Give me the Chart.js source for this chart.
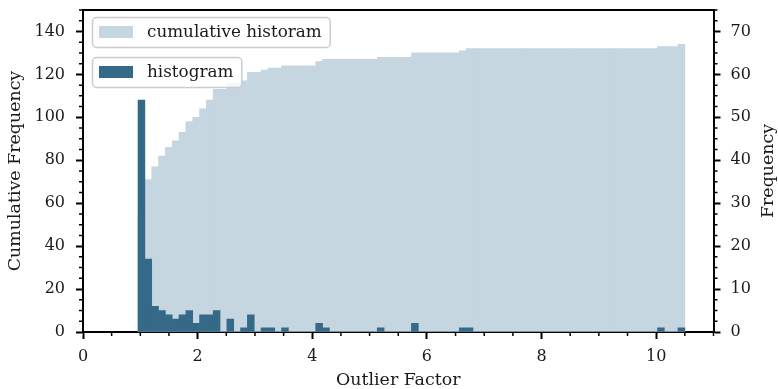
<!DOCTYPE html>
<html><head><meta charset="utf-8">
<script src="https://cdn.jsdelivr.net/npm/chart.js@4.4.1/dist/chart.umd.min.js"></script>
<style>html,body{margin:0;padding:0;background:#fff;} #wrap{width:778px;height:389px;position:relative;}</style>
</head><body><div id="wrap"><canvas id="c"></canvas></div>
<script>
// ---- data ----
const binStart = 0.96;      // left edge of first bin (Outlier Factor)
const binWidth = 0.11925;   // width of one bin
const histogram = [
  54,17,6,5,4,3,4,5,2,4,
  4,5,0,3,0,1,4,0,1,1,
  0,1,0,0,0,0,2,1,0,0,
  0,0,0,0,0,1,0,0,0,0,
  2,0,0,0,0,0,0,1,1,0,
  0,0,0,0,0,0,0,0,0,0,
  0,0,0,0,0,0,0,0,0,0,
  0,0,0,0,0,0,1,0,0,1
];
const cumulative = [
  54,71,77,82,86,89,93,98,100,104,
  108,113,113,116,116,117,121,121,122,123,
  123,124,124,124,124,124,126,127,127,127,
  127,127,127,127,127,128,128,128,128,128,
  130,130,130,130,130,130,130,131,132,132,
  132,132,132,132,132,132,132,132,132,132,
  132,132,132,132,132,132,132,132,132,132,
  132,132,132,132,132,132,133,133,133,134
];
const binCenters = histogram.map((_, i) => +(binStart + (i + 0.5) * binWidth).toFixed(4));
const xTicks = [0, 2, 4, 6, 8, 10];
const leftTicks = [0, 20, 40, 60, 80, 100, 120, 140];
const rightTicks = [0, 10, 20, 30, 40, 50, 60, 70];
const labels = { hist: 'histogram', cum: 'cumulative historam', x: 'Outlier Factor', yl: 'Cumulative Frequency', yr: 'Frequency' };

// ---- styling ----
const FONT = "'DejaVu Serif', 'Liberation Serif', serif";
const FS_TICK = 16;
const FS_TITLE = 17.4;
const FS_LEG = 16.8;
const DARK = '#346a87';
const LIGHT = '#c6d6e0';
const TXT = '#1a1a1a';
Chart.defaults.font.family = FONT;
Chart.defaults.color = TXT;

function roundRect(c, x, y, w, h, r) {
  c.beginPath();
  c.moveTo(x + r, y);
  c.arcTo(x + w, y, x + w, y + h, r);
  c.arcTo(x + w, y + h, x, y + h, r);
  c.arcTo(x, y + h, x, y, r);
  c.arcTo(x, y, x + w, y, r);
  c.closePath();
}

const decor = {
  id: 'decor',
  afterDraw(chart) {
    const c = chart.ctx, a = chart.chartArea;
    const sx = chart.scales.x, sy = chart.scales.y, sy1 = chart.scales.y1;
    c.save();
    // top spine
    c.strokeStyle = '#000'; c.lineWidth = 2;
    c.beginPath(); c.moveTo(a.left - 1, a.top); c.lineTo(a.right + 1, a.top); c.stroke();
    // minor ticks
    c.lineWidth = 1.5;
    c.beginPath();
    for (let i = 0; i <= 22; i++) {
      if (i % 4 === 0) continue;
      const px = sx.getPixelForValue(i * 0.5);
      c.moveTo(px, a.bottom); c.lineTo(px, a.bottom + 4);
    }
    for (let v = 0; v <= 150; v += 5) {
      if (v % 20 === 0) continue;
      const py = sy.getPixelForValue(v);
      c.moveTo(a.left, py); c.lineTo(a.left - 4, py);
    }
    for (let i = 0; i <= 30; i++) {
      if (i % 4 === 0) continue;
      const py = sy1.getPixelForValue(i * 2.5);
      c.moveTo(a.right, py); c.lineTo(a.right + 4, py);
    }
    c.stroke();
    // right title (reads bottom to top)
    c.font = FS_TITLE + 'px ' + FONT;
    c.fillStyle = TXT;
    c.save();
    c.translate(768, (a.top + a.bottom) / 2);
    c.rotate(-Math.PI / 2);
    c.textAlign = 'center'; c.textBaseline = 'middle';
    c.fillText(labels.yr, 0, 0);
    c.restore();
    // two legend boxes
    c.font = FS_LEG + 'px ' + FONT;
    const boxes = [{ ds: 1, y: 17 }, { ds: 0, y: 57 }];
    for (const b of boxes) {
      const ds = chart.data.datasets[b.ds];
      const tw = c.measureText(ds.label).width;
      const x = 92, w = 147 - 92 + tw + 8, h = 30;
      roundRect(c, x + 0.5, b.y + 0.5, w, h, 4);
      c.fillStyle = 'rgba(255,255,255,0.8)'; c.fill();
      c.strokeStyle = '#cccccc'; c.lineWidth = 1.5; c.stroke();
      c.fillStyle = ds.backgroundColor; c.fillRect(99, b.y + 9, 34, 12);
      c.fillStyle = TXT; c.textAlign = 'left'; c.textBaseline = 'middle';
      c.fillText(ds.label, 147, b.y + 16);
    }
    c.restore();
  }
};

const common = { grouped: false, barPercentage: 1, categoryPercentage: 1, borderWidth: 0 };
function fitV(width) {
  return s => { s.width = width; s.paddingTop = 0; s.paddingBottom = 0; };
}
new Chart(document.getElementById('c'), {
  type: 'bar',
  data: {
    datasets: [
      Object.assign({ label: labels.hist, data: binCenters.map((x, i) => ({ x, y: histogram[i] })), yAxisID: 'y1', backgroundColor: DARK, order: 1 }, common),
      Object.assign({ label: labels.cum, data: binCenters.map((x, i) => ({ x, y: cumulative[i] })), yAxisID: 'y', backgroundColor: LIGHT, order: 2 }, common)
    ]
  },
  options: {
    responsive: true, maintainAspectRatio: false, animation: false,
    layout: { padding: { top: 10, left: 0, right: 0, bottom: 0 } },
    plugins: { legend: { display: false }, tooltip: { enabled: false } },
    scales: {
      x: {
        type: 'linear', min: 0, max: 11, offset: false,
        grid: { offset: false, drawOnChartArea: false, drawTicks: true, tickLength: 7, tickWidth: 2, tickColor: '#000' },
        border: { display: true, color: '#000', width: 2 },
        ticks: { font: { size: FS_TICK }, padding: 8, maxRotation: 0, autoSkip: false },
        afterBuildTicks: s => { s.ticks = xTicks.map(v => ({ value: v })); },
        afterFit: s => { s.height = 57; s.paddingLeft = 0; s.paddingRight = 0; },
        title: { display: true, text: labels.x, font: { size: FS_TITLE, lineHeight: 1 }, padding: { top: 0, bottom: 0 } }
      },
      y: {
        position: 'left', min: 0, max: 150,
        grid: { drawOnChartArea: false, drawTicks: true, tickLength: 7, tickWidth: 2, tickColor: '#000' },
        border: { display: true, color: '#000', width: 2 },
        ticks: { font: { size: FS_TICK }, padding: 11, autoSkip: false },
        afterBuildTicks: s => { s.ticks = leftTicks.map(v => ({ value: v })); },
        afterFit: fitV(83),
        title: { display: true, text: labels.yl, font: { size: FS_TITLE, lineHeight: 1 }, padding: { top: 7, bottom: 0 } }
      },
      y1: {
        position: 'right', min: 0, max: 75,
        grid: { drawOnChartArea: false, drawTicks: true, tickLength: 7, tickWidth: 2, tickColor: '#000' },
        border: { display: true, color: '#000', width: 2 },
        ticks: { font: { size: FS_TICK }, padding: 10, autoSkip: false },
        afterBuildTicks: s => { s.ticks = rightTicks.map(v => ({ value: v })); },
        afterFit: fitV(64.5)
      }
    }
  },
  plugins: [decor]
});
</script>
</body></html>
